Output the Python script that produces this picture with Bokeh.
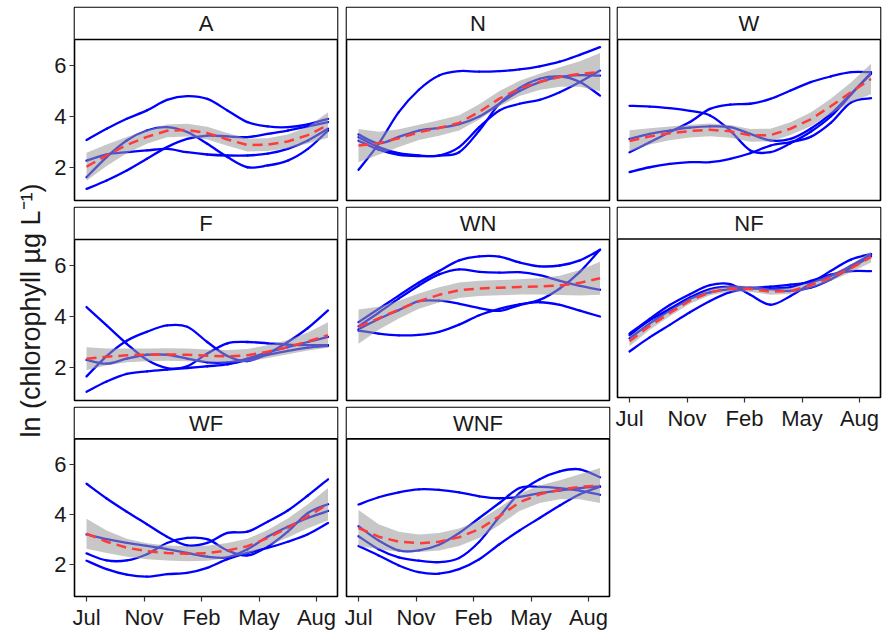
import math
from bokeh.plotting import figure
from bokeh.layouts import row, column
from bokeh.models import Range1d, FixedTicker, Span
from bokeh.core.properties import value
from bokeh.embed import file_html
from bokeh.resources import INLINE

# sampling times (x units between month ticks) shared by all series
t = [0, 0.35, 0.7, 1.05, 1.4, 1.75, 2.1, 2.45, 2.8, 3.15, 3.5, 3.85, 4.2]
month_ticks = [0, 1, 2, 3, 4]
month_labels = ["Jul", "Nov", "Feb", "May", "Aug"]
y_ticks = [2, 4, 6]

treatments = ["A", "N", "W", "F", "WN", "NF", "WF", "WNF"]

# replicate trajectories, ln(chlorophyll)
A_reps = [
    [3.08, 3.52, 3.91, 4.24, 4.65, 4.80, 4.69, 4.24, 3.78, 3.61, 3.58, 3.69, 3.91],
    [1.16, 1.49, 1.88, 2.34, 2.80, 3.12, 3.25, 3.22, 3.19, 3.32, 3.45, 3.61, 3.78],
    [2.27, 2.51, 2.60, 2.67, 2.73, 2.60, 2.51, 2.47, 2.47, 2.54, 2.73, 3.06, 3.52],
    [1.62, 2.41, 3.06, 3.45, 3.58, 3.39, 2.93, 2.41, 2.01, 2.08, 2.27, 2.73, 3.45],
]
N_reps = [
    [1.91, 2.93, 4.17, 5.05, 5.61, 5.78, 5.76, 5.78, 5.85, 5.97, 6.15, 6.42, 6.72],
    [3.19, 2.80, 2.56, 2.47, 2.47, 2.80, 3.58, 4.24, 4.50, 4.65, 4.95, 5.35, 5.80],
    [3.05, 2.70, 2.50, 2.45, 2.47, 2.60, 3.45, 4.50, 5.12, 5.48, 5.57, 5.35, 4.82],
    [3.30, 2.95, 3.20, 3.45, 3.55, 3.70, 4.00, 4.50, 5.00, 5.35, 5.55, 5.62, 5.60],
]
W_reps = [
    [4.42, 4.39, 4.33, 4.22, 4.04, 3.45, 2.67, 2.60, 2.95, 3.40, 4.00, 4.85, 5.72],
    [1.82, 2.01, 2.14, 2.21, 2.21, 2.34, 2.56, 2.86, 3.00, 3.20, 3.75, 4.55, 4.72],
    [2.60, 2.99, 3.39, 3.78, 4.30, 4.47, 4.50, 4.69, 5.02, 5.35, 5.57, 5.74, 5.74],
    [3.12, 3.32, 3.45, 3.56, 3.61, 3.58, 3.32, 3.06, 3.12, 3.52, 4.10, 4.89, 5.67],
]
F_reps = [
    [4.37, 3.65, 2.93, 2.30, 1.98, 2.05, 2.55, 2.95, 3.00, 2.95, 2.90, 2.88, 2.88],
    [1.05, 1.45, 1.75, 1.85, 1.92, 1.98, 2.05, 2.12, 2.30, 2.50, 2.65, 2.78, 2.85],
    [1.65, 2.45, 3.05, 3.40, 3.65, 3.60, 3.00, 2.45, 2.25, 2.55, 3.00, 3.55, 4.24],
    [2.30, 2.15, 2.35, 2.50, 2.50, 2.35, 2.20, 2.20, 2.35, 2.60, 2.80, 3.00, 3.20],
]
WN_reps = [
    [3.78, 4.30, 4.82, 5.33, 5.78, 6.20, 6.36, 6.35, 6.12, 5.97, 6.00, 6.20, 6.62],
    [3.62, 4.15, 4.70, 5.22, 5.65, 5.85, 5.75, 5.72, 5.74, 5.62, 5.40, 5.20, 5.05],
    [3.50, 3.90, 4.25, 4.60, 4.62, 4.50, 4.33, 4.22, 4.45, 4.65, 5.10, 5.75, 6.62],
    [3.45, 3.33, 3.26, 3.28, 3.40, 3.68, 4.05, 4.30, 4.48, 4.56, 4.46, 4.23, 4.00],
]
NF_reps = [
    [2.54, 3.10, 3.60, 4.10, 4.55, 4.90, 5.05, 5.05, 5.10, 5.35, 5.60, 5.74, 5.74],
    [3.25, 3.84, 4.39, 4.82, 5.18, 5.22, 4.80, 4.40, 4.75, 5.25, 5.75, 6.20, 6.42],
    [3.19, 3.78, 4.24, 4.69, 5.02, 5.12, 5.08, 5.12, 5.20, 5.30, 5.55, 5.95, 6.40],
    [3.06, 3.65, 4.17, 4.63, 4.89, 5.02, 5.05, 5.02, 4.95, 5.08, 5.41, 5.87, 6.33],
]
WF_reps = [
    [5.22, 4.63, 4.10, 3.60, 3.10, 2.75, 2.85, 3.25, 3.30, 3.70, 4.15, 4.75, 5.40],
    [2.43, 2.15, 2.15, 2.40, 2.85, 3.05, 3.00, 2.55, 2.35, 2.70, 3.30, 4.05, 4.40],
    [2.14, 1.80, 1.58, 1.50, 1.60, 1.65, 1.85, 2.20, 2.45, 2.65, 2.90, 3.20, 3.65],
    [3.19, 3.00, 2.85, 2.73, 2.60, 2.45, 2.30, 2.27, 2.60, 3.10, 3.50, 3.85, 4.13],
]
WNF_reps = [
    [4.39, 4.68, 4.88, 5.00, 4.98, 4.88, 4.72, 4.64, 4.70, 4.85, 4.95, 5.05, 5.12],
    [2.73, 2.35, 1.95, 1.68, 1.62, 1.80, 2.20, 2.80, 3.35, 3.85, 4.35, 4.80, 5.10],
    [3.12, 2.60, 2.27, 2.14, 2.08, 2.25, 2.90, 3.90, 4.85, 5.40, 5.72, 5.80, 5.48],
    [3.52, 2.95, 2.55, 2.55, 2.78, 3.25, 3.85, 4.45, 5.05, 5.10, 5.05, 4.95, 4.78],
]

# smoothed treatment trend with its confidence band
A_fit = [2.03, 2.48, 2.88, 3.20, 3.44, 3.47, 3.35, 3.10, 2.88, 2.90, 3.02, 3.27, 3.67]
A_lo = [1.48, 2.06, 2.56, 2.93, 3.19, 3.22, 3.10, 2.85, 2.63, 2.65, 2.75, 2.94, 3.17]
A_hi = [2.58, 2.90, 3.20, 3.47, 3.69, 3.72, 3.60, 3.35, 3.13, 3.15, 3.29, 3.60, 4.17]
N_fit = [2.86, 2.95, 3.15, 3.38, 3.55, 3.75, 4.18, 4.70, 5.10, 5.36, 5.55, 5.67, 5.74]
N_lo = [2.21, 2.50, 2.80, 3.08, 3.25, 3.45, 3.88, 4.40, 4.80, 5.04, 5.17, 5.17, 4.99]
N_hi = [3.51, 3.40, 3.50, 3.68, 3.85, 4.05, 4.48, 5.00, 5.40, 5.68, 5.93, 6.17, 6.49]
W_fit = [3.04, 3.22, 3.34, 3.43, 3.48, 3.42, 3.26, 3.27, 3.52, 3.89, 4.40, 4.95, 5.47]
W_lo = [2.62, 2.90, 3.07, 3.18, 3.23, 3.17, 3.01, 3.02, 3.27, 3.62, 4.10, 4.57, 4.87]
W_hi = [3.46, 3.54, 3.61, 3.68, 3.73, 3.67, 3.51, 3.52, 3.77, 4.16, 4.70, 5.33, 6.07]
F_fit = [2.34, 2.42, 2.48, 2.50, 2.51, 2.50, 2.46, 2.44, 2.48, 2.62, 2.80, 3.02, 3.27]
F_lo = [1.89, 2.09, 2.21, 2.25, 2.26, 2.25, 2.21, 2.19, 2.23, 2.37, 2.52, 2.67, 2.77]
F_hi = [2.79, 2.75, 2.75, 2.75, 2.76, 2.75, 2.71, 2.69, 2.73, 2.87, 3.08, 3.37, 3.77]
WN_fit = [3.60, 3.93, 4.27, 4.60, 4.85, 5.03, 5.10, 5.13, 5.16, 5.18, 5.22, 5.32, 5.50]
WN_lo = [2.93, 3.48, 3.92, 4.30, 4.55, 4.73, 4.80, 4.83, 4.86, 4.86, 4.84, 4.82, 4.85]
WN_hi = [4.27, 4.38, 4.62, 4.90, 5.15, 5.33, 5.40, 5.43, 5.46, 5.50, 5.60, 5.82, 6.15]
NF_fit = [2.95, 3.55, 4.07, 4.56, 4.90, 5.05, 5.03, 4.92, 4.95, 5.18, 5.48, 5.85, 6.30]
NF_lo = [2.75, 3.40, 3.94, 4.44, 4.78, 4.93, 4.91, 4.80, 4.83, 5.06, 5.35, 5.70, 6.08]
NF_hi = [3.15, 3.70, 4.20, 4.68, 5.02, 5.17, 5.15, 5.04, 5.07, 5.30, 5.61, 6.00, 6.52]
WF_fit = [3.22, 2.90, 2.66, 2.52, 2.45, 2.42, 2.44, 2.55, 2.72, 3.05, 3.45, 3.92, 4.40]
WF_lo = [2.62, 2.45, 2.30, 2.20, 2.15, 2.12, 2.14, 2.25, 2.42, 2.73, 3.07, 3.44, 3.75]
WF_hi = [3.82, 3.35, 3.02, 2.84, 2.75, 2.72, 2.74, 2.85, 3.02, 3.37, 3.83, 4.40, 5.05]
WNF_fit = [3.45, 3.10, 2.90, 2.84, 2.90, 3.08, 3.40, 3.92, 4.48, 4.80, 4.98, 5.10, 5.15]
WNF_lo = [2.73, 2.60, 2.50, 2.49, 2.55, 2.73, 3.05, 3.57, 4.13, 4.45, 4.60, 4.60, 4.45]
WNF_hi = [4.17, 3.60, 3.30, 3.19, 3.25, 3.43, 3.75, 4.27, 4.83, 5.15, 5.36, 5.60, 5.85]

series = {
    "A": (A_reps, A_fit, A_lo, A_hi),
    "N": (N_reps, N_fit, N_lo, N_hi),
    "W": (W_reps, W_fit, W_lo, W_hi),
    "F": (F_reps, F_fit, F_lo, F_hi),
    "WN": (WN_reps, WN_fit, WN_lo, WN_hi),
    "NF": (NF_reps, NF_fit, NF_lo, NF_hi),
    "WF": (WF_reps, WF_fit, WF_lo, WF_hi),
    "WNF": (WNF_reps, WNF_fit, WNF_lo, WNF_hi),
}

FONT = value("Liberation Sans")
X_LO, X_HI = -0.209, 4.365
Y_LO, Y_PANEL_TOP, Y_STRIP_TOP = 0.706, 7.02, 8.275

# grid slot of every facet, and the facets that carry the month axis
slots = {"A": (0, 0), "N": (0, 1), "W": (0, 2),
         "F": (1, 0), "WN": (1, 1), "NF": (1, 2),
         "WF": (2, 0), "WNF": (2, 1)}
with_months = {"NF", "WF", "WNF"}

LABEL_W = 50
col_geom = {0: (292, 24, 5), 1: (271, 4, 4), 2: (269, 4, 2)}    # width, left, right
row_geom = {0: (203, 7, 3), 1: (200, 4, 3), 2: (229, 4, 32)}   # height, top, bottom


def smooth_segments(xs, ys):
    """Cubic Bezier pieces (Catmull-Rom tangents) running through every sample."""
    n = len(xs)
    seg = {k: [] for k in ("x0", "y0", "x1", "y1", "cx0", "cy0", "cx1", "cy1")}
    for i in range(n - 1):
        a = max(i - 1, 0)
        b = min(i + 2, n - 1)
        seg["x0"].append(xs[i]); seg["y0"].append(ys[i])
        seg["x1"].append(xs[i + 1]); seg["y1"].append(ys[i + 1])
        seg["cx0"].append(xs[i] + (xs[i + 1] - xs[a]) / 6)
        seg["cy0"].append(ys[i] + (ys[i + 1] - ys[a]) / 6)
        seg["cx1"].append(xs[i + 1] - (xs[b] - xs[i]) / 6)
        seg["cy1"].append(ys[i + 1] - (ys[b] - ys[i]) / 6)
    return seg


def facet(name):
    r, c = slots[name]
    w, bl, br = col_geom[c]
    h, bt, bb = row_geom[r]
    months = name in with_months
    if name == "NF":
        h, bb = 230, 33
    p = figure(width=w, height=h, output_backend="svg", toolbar_location=None,
               x_range=Range1d(X_LO, X_HI), y_range=Range1d(Y_LO, Y_STRIP_TOP),
               x_axis_location="below" if months else None,
               y_axis_location="left" if c == 0 else None,
               min_border_left=bl, min_border_right=br,
               min_border_top=bt, min_border_bottom=bb)
    p.background_fill_color = "white"
    p.border_fill_color = "white"
    p.outline_line_color = "black"
    p.outline_line_width = 1.6
    p.xgrid.grid_line_color = None
    p.ygrid.grid_line_color = None

    reps, fit, lo, hi = series[name]
    for rep in reps:
        p.bezier(line_color="#0000FF", line_width=2.3, line_cap="round",
                 **smooth_segments(t, rep))
    p.varea(x=t, y1=lo, y2=hi, fill_color="#999999", fill_alpha=0.55)
    p.line(t, fit, line_color="#FF3A3A", line_width=2.5, line_dash="10 6",
           line_join="round")

    # facet strip
    p.quad(left=[X_LO], right=[X_HI], bottom=[Y_PANEL_TOP], top=[Y_STRIP_TOP],
           fill_color="white", line_color=None)
    p.add_layout(Span(location=Y_PANEL_TOP, dimension="width",
                      line_color="black", line_width=1.6))
    p.text(x=[(X_LO + X_HI) / 2], y=[(Y_PANEL_TOP + Y_STRIP_TOP) / 2], text=[name],
           text_align="center", text_baseline="middle", text_font=FONT,
           text_font_size="22px", text_color="#1A1A1A")

    if months:
        ax = p.xaxis[0]
        ax.ticker = FixedTicker(ticks=month_ticks)
        ax.major_label_overrides = {k: lab for k, lab in zip(month_ticks, month_labels)}
    if c == 0:
        ax = p.yaxis[0]
        ax.ticker = FixedTicker(ticks=y_ticks)
    for ax in list(p.xaxis) + list(p.yaxis):
        ax.axis_line_color = None
        ax.major_tick_out = 5
        ax.major_tick_in = 0
        ax.minor_tick_line_color = None
        ax.major_tick_line_color = "#333333"
        ax.major_tick_line_width = 1.2
        ax.major_label_text_font = "Liberation Sans"
        ax.major_label_text_font_size = "22px"
        ax.major_label_text_color = "#1A1A1A"
        ax.major_label_standoff = 3
    return p


panels = {name: facet(name) for name in treatments}

# shared y-axis title
lab = figure(width=LABEL_W, height=632, output_backend="svg", toolbar_location=None,
             x_range=Range1d(0, LABEL_W), y_range=Range1d(0, 632),
             x_axis_location=None, y_axis_location=None, min_border=0)
lab.outline_line_color = None
lab.xgrid.grid_line_color = None
lab.ygrid.grid_line_color = None
lab.text(x=[30], y=[322], text=["ln (chlorophyll \u00b5g L\u207b\u00b9)"], angle=math.pi / 2,
         text_align="center", text_baseline="middle", text_font=FONT,
         text_font_size="27px", text_color="#1A1A1A")

layout = row(
    lab,
    column(panels["A"], panels["F"], panels["WF"], spacing=0),
    column(panels["N"], panels["WN"], panels["WNF"], spacing=0),
    column(panels["W"], panels["NF"], spacing=0),
    spacing=0,
)

open("out.html", "w").write(file_html(layout, INLINE))
